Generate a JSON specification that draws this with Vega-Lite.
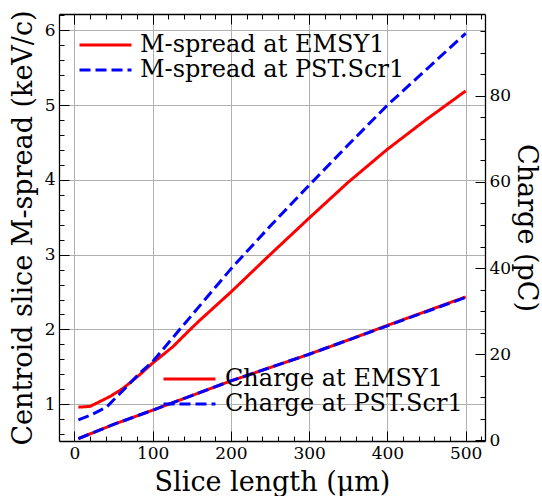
{
  "$schema": "https://vega.github.io/schema/vega-lite/v6.json",
  "width": 426,
  "height": 427,
  "autosize": "none",
  "padding": {"left": 59, "top": 14, "right": 57, "bottom": 55},
  "background": "white",
  "config": {
    "font": "DejaVu Serif",
    "view": {"stroke": null},
    "axis": {
      "labelFont": "DejaVu Serif",
      "labelFontSize": 17,
      "labelColor": "black",
      "titleFont": "DejaVu Serif",
      "titleFontSize": 27,
      "titleFontWeight": "normal",
      "titleColor": "black",
      "domainColor": "black",
      "domainWidth": 1.3,
      "tickColor": "black",
      "tickWidth": 1,
      "gridColor": "#b0b0b0",
      "gridWidth": 1
    },
    "legend": {
      "labelFont": "DejaVu Serif",
      "labelFontSize": 24,
      "labelColor": "black",
      "labelLimit": 400
    }
  },
  "data": {
    "values": [
      {"x": 5, "v": 0.96, "s": "M-spread at EMSY1", "g": "M"},
      {"x": 20, "v": 0.97, "s": "M-spread at EMSY1", "g": "M"},
      {"x": 45, "v": 1.10, "s": "M-spread at EMSY1", "g": "M"},
      {"x": 62, "v": 1.21, "s": "M-spread at EMSY1", "g": "M"},
      {"x": 83, "v": 1.39, "s": "M-spread at EMSY1", "g": "M"},
      {"x": 100, "v": 1.55, "s": "M-spread at EMSY1", "g": "M"},
      {"x": 126, "v": 1.77, "s": "M-spread at EMSY1", "g": "M"},
      {"x": 147, "v": 1.99, "s": "M-spread at EMSY1", "g": "M"},
      {"x": 160, "v": 2.12, "s": "M-spread at EMSY1", "g": "M"},
      {"x": 200, "v": 2.50, "s": "M-spread at EMSY1", "g": "M"},
      {"x": 250, "v": 3.00, "s": "M-spread at EMSY1", "g": "M"},
      {"x": 300, "v": 3.49, "s": "M-spread at EMSY1", "g": "M"},
      {"x": 350, "v": 3.97, "s": "M-spread at EMSY1", "g": "M"},
      {"x": 400, "v": 4.41, "s": "M-spread at EMSY1", "g": "M"},
      {"x": 450, "v": 4.81, "s": "M-spread at EMSY1", "g": "M"},
      {"x": 500, "v": 5.19, "s": "M-spread at EMSY1", "g": "M"},
      {"x": 5, "v": 0.79, "s": "M-spread at PST.Scr1", "g": "M"},
      {"x": 20, "v": 0.85, "s": "M-spread at PST.Scr1", "g": "M"},
      {"x": 41, "v": 0.96, "s": "M-spread at PST.Scr1", "g": "M"},
      {"x": 58, "v": 1.14, "s": "M-spread at PST.Scr1", "g": "M"},
      {"x": 83, "v": 1.41, "s": "M-spread at PST.Scr1", "g": "M"},
      {"x": 100, "v": 1.57, "s": "M-spread at PST.Scr1", "g": "M"},
      {"x": 125, "v": 1.88, "s": "M-spread at PST.Scr1", "g": "M"},
      {"x": 150, "v": 2.19, "s": "M-spread at PST.Scr1", "g": "M"},
      {"x": 175, "v": 2.50, "s": "M-spread at PST.Scr1", "g": "M"},
      {"x": 200, "v": 2.81, "s": "M-spread at PST.Scr1", "g": "M"},
      {"x": 250, "v": 3.38, "s": "M-spread at PST.Scr1", "g": "M"},
      {"x": 300, "v": 3.93, "s": "M-spread at PST.Scr1", "g": "M"},
      {"x": 350, "v": 4.47, "s": "M-spread at PST.Scr1", "g": "M"},
      {"x": 400, "v": 5.00, "s": "M-spread at PST.Scr1", "g": "M"},
      {"x": 450, "v": 5.48, "s": "M-spread at PST.Scr1", "g": "M"},
      {"x": 500, "v": 5.96, "s": "M-spread at PST.Scr1", "g": "M"},
      {"x": 5, "v": 0.4, "s": "Charge at EMSY1", "g": "C"},
      {"x": 50, "v": 3.7, "s": "Charge at EMSY1", "g": "C"},
      {"x": 100, "v": 7.0, "s": "Charge at EMSY1", "g": "C"},
      {"x": 150, "v": 10.4, "s": "Charge at EMSY1", "g": "C"},
      {"x": 200, "v": 13.8, "s": "Charge at EMSY1", "g": "C"},
      {"x": 250, "v": 16.9, "s": "Charge at EMSY1", "g": "C"},
      {"x": 300, "v": 20.0, "s": "Charge at EMSY1", "g": "C"},
      {"x": 350, "v": 23.3, "s": "Charge at EMSY1", "g": "C"},
      {"x": 400, "v": 26.7, "s": "Charge at EMSY1", "g": "C"},
      {"x": 450, "v": 30.0, "s": "Charge at EMSY1", "g": "C"},
      {"x": 500, "v": 33.3, "s": "Charge at EMSY1", "g": "C"},
      {"x": 5, "v": 0.4, "s": "Charge at PST.Scr1", "g": "C"},
      {"x": 50, "v": 3.7, "s": "Charge at PST.Scr1", "g": "C"},
      {"x": 100, "v": 7.0, "s": "Charge at PST.Scr1", "g": "C"},
      {"x": 150, "v": 10.4, "s": "Charge at PST.Scr1", "g": "C"},
      {"x": 200, "v": 13.8, "s": "Charge at PST.Scr1", "g": "C"},
      {"x": 250, "v": 16.9, "s": "Charge at PST.Scr1", "g": "C"},
      {"x": 300, "v": 20.0, "s": "Charge at PST.Scr1", "g": "C"},
      {"x": 350, "v": 23.3, "s": "Charge at PST.Scr1", "g": "C"},
      {"x": 400, "v": 26.6, "s": "Charge at PST.Scr1", "g": "C"},
      {"x": 450, "v": 29.9, "s": "Charge at PST.Scr1", "g": "C"},
      {"x": 500, "v": 33.2, "s": "Charge at PST.Scr1", "g": "C"}
    ]
  },
  "layer": [
    {
      "transform": [{"filter": "datum.g === 'M'"}],
      "mark": {"type": "line", "strokeWidth": 3},
      "encoding": {
        "x": {
          "field": "x", "type": "quantitative",
          "scale": {"domain": [-19.75, 524.75], "nice": false, "zero": false},
          "axis": {
            "orient": "bottom",
            "title": "Slice length (μm)",
            "values": [0,20,40,60,80,100,120,140,160,180,200,220,240,260,280,300,320,340,360,380,400,420,440,460,480,500,520],
            "grid": true,
            "gridOpacity": {"condition": {"test": "datum.value % 100 === 0", "value": 1}, "value": 0},
            "tickSize": {"condition": {"test": "datum.value % 100 === 0", "value": -10}, "value": -5},
            "labelExpr": "datum.value % 100 === 0 ? datum.label : ''",
            "labelPadding": 14,
            "titlePadding": 8
          }
        },
        "y": {
          "field": "v", "type": "quantitative",
          "scale": {"domain": [0.507, 6.22], "nice": false, "zero": false},
          "axis": {
            "orient": "left",
            "title": "Centroid slice M-spread (keV/c)",
            "values": [0.6,0.8,1,1.2,1.4,1.6,1.8,2,2.2,2.4,2.6,2.8,3,3.2,3.4,3.6,3.8,4,4.2,4.4,4.6,4.8,5,5.2,5.4,5.6,5.8,6,6.2],
            "grid": true,
            "gridOpacity": {"condition": {"test": "abs(datum.value - round(datum.value)) < 0.001", "value": 1}, "value": 0},
            "tickSize": {"condition": {"test": "abs(datum.value - round(datum.value)) < 0.001", "value": -10}, "value": -5},
            "labelExpr": "abs(datum.value - round(datum.value)) < 0.001 ? format(datum.value, 'd') : ''",
            "labelPadding": 14,
            "titlePadding": 7
          }
        },
        "color": {
          "field": "s", "type": "nominal",
          "scale": {"domain": ["M-spread at EMSY1", "M-spread at PST.Scr1"], "range": ["#ff0000", "#0000ff"]},
          "legend": {"orient": "none", "legendX": 34.5, "legendY": 19, "title": null, "symbolType": "M-5.2,0H5.2", "symbolSize": 100, "symbolStrokeWidth": 3, "labelOffset": 22.5, "rowPadding": 1, "padding": 0}
        },
        "strokeDash": {
          "field": "s", "type": "nominal",
          "scale": {"domain": ["M-spread at EMSY1", "M-spread at PST.Scr1"], "range": [[1, 0], [11, 5]]},
          "legend": {"orient": "none", "legendX": 34.5, "legendY": 19, "title": null, "symbolType": "M-5.2,0H5.2", "symbolSize": 100, "symbolStrokeWidth": 3, "labelOffset": 22.5, "rowPadding": 1, "padding": 0}
        }
      }
    },
    {
      "transform": [{"filter": "datum.g === 'C'"}],
      "mark": {"type": "line", "strokeWidth": 3},
      "encoding": {
        "x": {
          "field": "x", "type": "quantitative",
          "scale": {"domain": [-19.75, 524.75], "nice": false, "zero": false},
          "axis": {
            "orient": "top",
            "title": null,
            "values": [0,20,40,60,80,100,120,140,160,180,200,220,240,260,280,300,320,340,360,380,400,420,440,460,480,500,520],
            "grid": false,
            "labels": false,
            "tickSize": {"condition": {"test": "datum.value % 100 === 0", "value": -10}, "value": -5}
          }
        },
        "y": {
          "field": "v", "type": "quantitative",
          "scale": {"domain": [-0.15, 99], "nice": false, "zero": false},
          "axis": {
            "orient": "right",
            "title": "Charge (pC)",
            "values": [0,5,10,15,20,25,30,35,40,45,50,55,60,65,70,75,80,85,90,95],
            "grid": false,
            "tickSize": {"condition": {"test": "datum.value % 20 === 0", "value": -10}, "value": -5},
            "labelExpr": "datum.value % 20 === 0 ? datum.label : ''",
            "labelPadding": 14,
            "titlePadding": 1
          }
        },
        "color": {
          "field": "s", "type": "nominal",
          "scale": {"domain": ["Charge at EMSY1", "Charge at PST.Scr1"], "range": ["#ff0000", "#0000ff"]},
          "legend": {"orient": "none", "legendX": 118.5, "legendY": 353, "title": null, "symbolType": "M-5.2,0H5.2", "symbolSize": 100, "symbolStrokeWidth": 3, "labelOffset": 23.5, "rowPadding": 1, "padding": 0}
        },
        "strokeDash": {
          "field": "s", "type": "nominal",
          "scale": {"domain": ["Charge at EMSY1", "Charge at PST.Scr1"], "range": [[1, 0], [11, 5]]},
          "legend": {"orient": "none", "legendX": 118.5, "legendY": 353, "title": null, "symbolType": "M-5.2,0H5.2", "symbolSize": 100, "symbolStrokeWidth": 3, "labelOffset": 23.5, "rowPadding": 1, "padding": 0}
        }
      }
    }
  ],
  "resolve": {
    "scale": {"y": "independent", "color": "independent", "strokeDash": "independent"},
    "axis": {"x": "independent"}
  }
}
